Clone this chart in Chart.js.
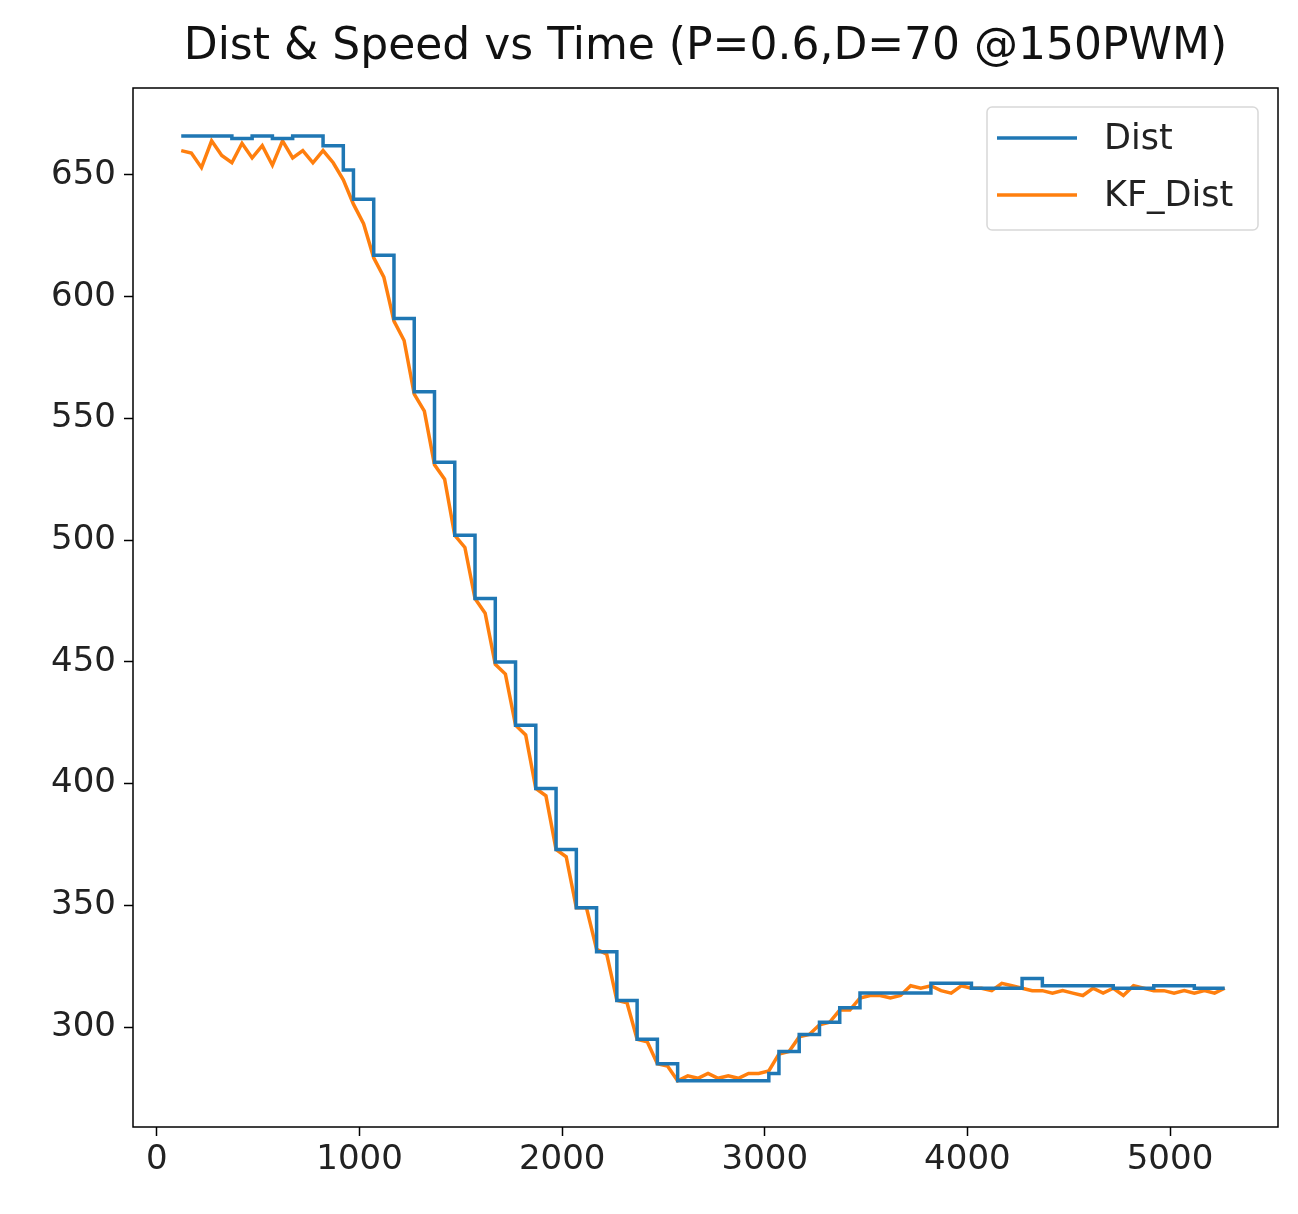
<!DOCTYPE html>
<html>
<head>
<meta charset="utf-8">
<script src="https://cdn.jsdelivr.net/npm/chart.js@4/dist/chart.umd.min.js"></script>
<style>
  html, body { margin: 0; padding: 0; background: #fff; }
  #wrap { width: 1298px; height: 1214px; }
</style>
</head>
<body>
<div id="wrap"><canvas id="distChart"></canvas></div>
<script>
const chartTitle = "Dist & Speed vs Time (P=0.6,D=70 @150PWM)";
const seriesNames = ["Dist", "KF_Dist"];
const xTicks = [0, 1000, 2000, 3000, 4000, 5000];
const yTicks = [300, 350, 400, 450, 500, 550, 600, 650];

const timeMs = [
  120, 170, 220, 270, 320, 370, 420, 470, 520, 570, 620, 670, 720, 770,
  820, 870, 920, 970, 1020, 1070, 1120, 1170, 1220, 1270, 1320, 1370, 1420, 1470,
  1520, 1570, 1620, 1670, 1720, 1770, 1820, 1870, 1920, 1970, 2020, 2070, 2120, 2170,
  2220, 2270, 2320, 2370, 2420, 2470, 2520, 2570, 2620, 2670, 2720, 2770, 2820, 2870,
  2920, 2970, 3020, 3070, 3120, 3170, 3220, 3270, 3320, 3370, 3420, 3470, 3520, 3570,
  3620, 3670, 3720, 3770, 3820, 3870, 3920, 3970, 4020, 4070, 4120, 4170, 4220, 4270,
  4320, 4370, 4420, 4470, 4520, 4570, 4620, 4670, 4720, 4770, 4820, 4870, 4920, 4970,
  5020, 5070, 5120, 5170, 5220, 5270
];

const dist = [
  666, 666, 666, 666, 666, 665, 665, 666, 666, 665, 665, 666, 666, 666,
  662, 662, 652, 640, 640, 617, 617, 591, 591, 561, 561, 532, 532, 502,
  502, 476, 476, 450, 450, 424, 424, 398, 398, 373, 373, 349, 349, 331,
  331, 311, 311, 295, 295, 285, 285, 278, 278, 278, 278, 278, 278, 278,
  278, 278, 281, 290, 290, 297, 297, 302, 302, 308, 308, 314, 314, 314,
  314, 314, 314, 314, 318, 318, 318, 318, 316, 316, 316, 316, 316, 320,
  320, 317, 317, 317, 317, 317, 317, 317, 316, 316, 316, 316, 317, 317,
  317, 317, 316, 316, 316, 316
];

const kfDist = [
  660, 659, 653, 664, 658, 655, 663, 657, 662, 654, 664, 657, 660, 655,
  660, 655, 648, 638, 630, 616, 608, 590, 582, 560, 553, 531, 525, 502,
  497, 476, 470, 449, 445, 424, 420, 398, 395, 373, 370, 349, 349, 332,
  330, 311, 310, 295, 294, 285, 284, 278, 280, 279, 281, 279, 280, 279,
  281, 281, 282, 289, 290, 296, 297, 301, 302, 307, 307, 312, 313, 313,
  312, 313, 317, 316, 317, 315, 314, 317, 316, 316, 315, 318, 317, 316,
  315, 315, 314, 315, 314, 313, 316, 314, 316, 313, 317, 316, 315, 315,
  314, 315, 314, 315, 314, 316
];

const blue = "#1f77b4";
const orange = "#ff7f0e";
const font = "'DejaVu Sans', sans-serif";

function toPoints(xs, ys) {
  return xs.map(function (x, i) { return { x: x, y: ys[i] }; });
}

// frame, title over plot area and matplotlib style legend
const framePlugin = {
  id: "frame",
  afterDraw: function (chart) {
    const ctx = chart.ctx;
    const a = chart.chartArea;
    ctx.save();
    ctx.strokeStyle = "#000";
    ctx.lineWidth = 1.5;
    ctx.strokeRect(a.left, a.top, a.right - a.left, a.bottom - a.top);

    ctx.fillStyle = "#111";
    ctx.font = "44px " + font;
    ctx.textAlign = "center";
    ctx.textBaseline = "middle";
    ctx.fillText(chartTitle, (a.left + a.right) / 2, 48);

    const bx = a.right - 291, by = a.top + 19, bw = 271, bh = 123;
    ctx.fillStyle = "rgba(255,255,255,0.8)";
    ctx.strokeStyle = "#d8d8d8";
    ctx.lineWidth = 1.5;
    ctx.beginPath();
    ctx.roundRect(bx, by, bw, bh, 5);
    ctx.fill();
    ctx.stroke();

    const colors = [blue, orange];
    ctx.font = "35px " + font;
    ctx.textAlign = "left";
    seriesNames.forEach(function (name, i) {
      const y = by + 31 + i * 57;
      ctx.strokeStyle = colors[i];
      ctx.lineWidth = 3.5;
      ctx.beginPath();
      ctx.moveTo(bx + 10, y);
      ctx.lineTo(bx + 90, y);
      ctx.stroke();
      ctx.fillStyle = "#222";
      ctx.fillText(name, bx + 117, y + 2);
    });
    ctx.restore();
  }
};

new Chart(document.getElementById("distChart"), {
  type: "line",
  data: {
    datasets: [
      {
        label: seriesNames[0],
        data: toPoints(timeMs, dist),
        borderColor: blue,
        borderWidth: 3.5,
        pointRadius: 0,
        stepped: "before",
        fill: false
      },
      {
        label: seriesNames[1],
        data: toPoints(timeMs, kfDist),
        borderColor: orange,
        borderWidth: 3.5,
        pointRadius: 0,
        tension: 0,
        fill: false
      }
    ]
  },
  plugins: [framePlugin],
  options: {
    responsive: true,
    maintainAspectRatio: false,
    animation: false,
    layout: { padding: { left: 0, right: 20, top: 88, bottom: 0 } },
    plugins: {
      legend: { display: false },
      tooltip: { enabled: false },
      title: { display: false }
    },
    scales: {
      x: {
        type: "linear",
        min: -118,
        max: 5533,
        afterBuildTicks: function (s) { s.ticks = xTicks.map(function (v) { return { value: v }; }); },
        afterFit: function (s) { s.height = 87; },
        grid: { drawOnChartArea: false, tickLength: 9, color: "#000", tickWidth: 1.5 },
        border: { display: false },
        ticks: {
          color: "#222", font: { family: font, size: 34 }, padding: 4, maxRotation: 0,
          callback: function (v) { return String(v); }
        }
      },
      y: {
        min: 259,
        max: 685.7,
        afterBuildTicks: function (s) { s.ticks = yTicks.map(function (v) { return { value: v }; }); },
        afterFit: function (s) { s.width = 133; },
        grid: { drawOnChartArea: false, tickLength: 9, color: "#000", tickWidth: 1.5 },
        border: { display: false },
        ticks: {
          color: "#222", font: { family: font, size: 34 }, padding: 8,
          callback: function (v) { return String(v); }
        }
      }
    }
  }
});
</script>
</body>
</html>
